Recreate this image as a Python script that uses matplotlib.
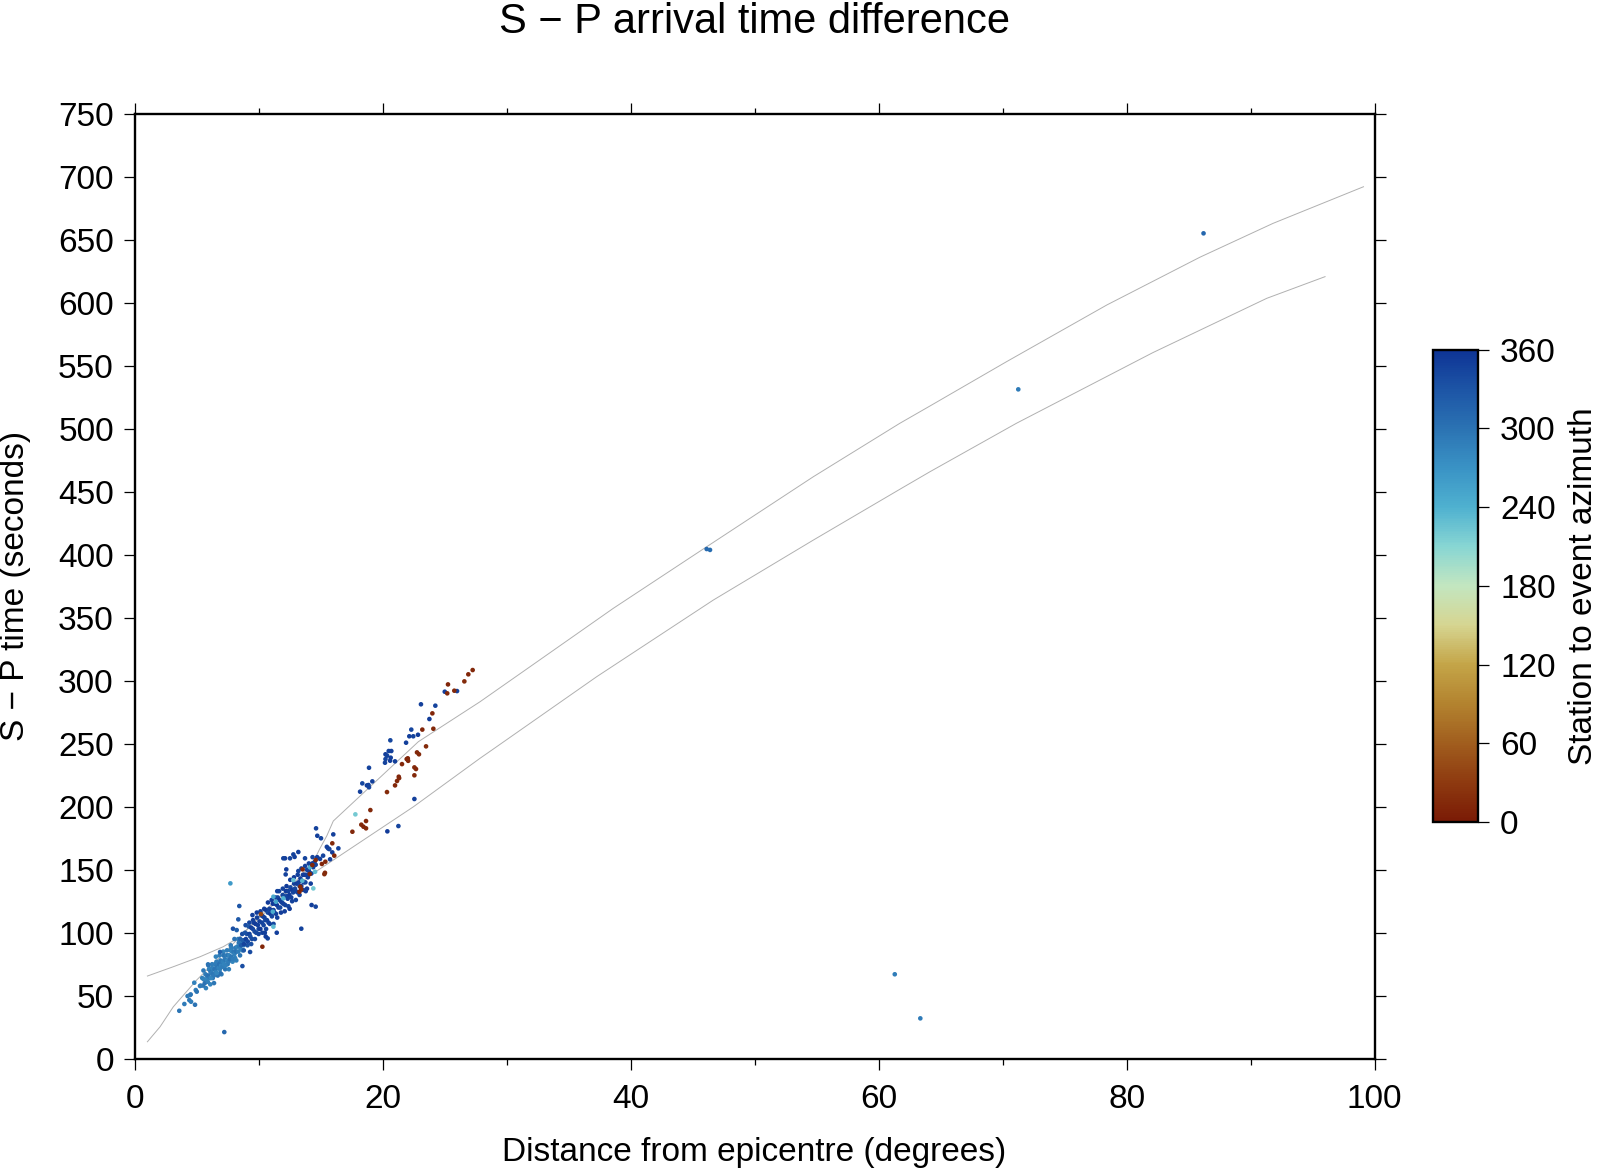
import numpy as np
import matplotlib
matplotlib.use("Agg")
import matplotlib.pyplot as plt
from matplotlib.colors import LinearSegmentedColormap, Normalize

plt.rcParams['font.family'] = ['Liberation Sans', 'DejaVu Sans']

# --- travel time curves (distance deg, S-P seconds) ---
upper_x = [1.03, 3.12, 5.27, 7.15, 8.5, 10.11, 11.72, 13.34, 14.41, 14.95, 15.5, 16.02,
           22.88, 27.85, 31.88, 38.6, 46.13, 54.73, 61.7, 64.14, 70.3, 78.4, 85.9, 91.8, 99.1]
upper_y = [65.6, 73.0, 80.9, 88.9, 96.8, 114.0, 128.6, 144.5, 156.4, 167.0, 177.0, 188.7,
           251.7, 283.4, 311.2, 357.6, 406.5, 462.1, 504.5, 518.3, 553.4, 598.5, 636.4, 663.3, 692.4]
lower_x = [1.03, 2.05, 3.12, 5.0, 6.89, 9.31, 12.0, 14.41, 16.02, 22.48, 27.85, 28.8,
           37.26, 46.67, 54.73, 61.7, 64.14, 71.1, 82.1, 91.3, 96.0]
lower_y = [13.4, 25.3, 41.2, 62.4, 80.9, 104.7, 129.9, 147.2, 157.7, 200.0, 238.5, 245.0,
           303.3, 364.2, 411.8, 452.1, 466.1, 504.5, 560.6, 603.8, 621.0]

# --- dense cluster, lighter part ---
light_x = [5.32, 5.45, 5.52, 5.58, 5.66, 5.71, 5.78, 5.84, 5.9, 5.95,
           6.02, 6.06, 6.12, 6.17, 6.2, 6.26, 6.31, 6.35, 6.4, 6.44,
           6.5, 6.55, 6.6, 6.63, 6.68, 6.74, 6.78, 6.83, 6.88, 6.92,
           6.97, 7.03, 7.08, 7.12, 7.18, 7.22, 7.27, 7.33, 7.37, 7.42,
           7.48, 7.53, 7.58, 7.62, 7.68, 7.73, 7.8, 7.86, 7.92, 7.98,
           8.05, 8.12, 8.2, 8.28, 8.36, 8.45, 8.55, 8.66, 8.78, 8.9]
light_y = [58, 64, 58, 63, 60, 67, 63, 66, 61, 66,
           71, 64, 69, 64, 68, 72, 67, 71, 66, 71,
           75, 69, 73, 68, 72, 76, 72, 75, 71, 78,
           74, 77, 73, 77, 82, 75, 79, 74, 78, 82,
           78, 82, 77, 82, 79, 86, 81, 85, 79, 85,
           83, 88, 85, 89, 85, 89, 87, 92, 90, 94]
light_az = [292, 288, 296, 285, 300, 290, 283, 295, 288, 302,
            286, 293, 298, 281, 290, 287, 296, 284, 292, 299,
            289, 286, 294, 282, 297, 290, 285, 301, 288, 293,
            283, 296, 290, 287, 299, 284, 292, 286, 295, 289,
            281, 297, 291, 285, 300, 288, 294, 283, 290, 296,
            287, 292, 299, 285, 290, 294, 288, 302, 286, 293]

# wider scatter round the lighter part
light2_x = [5.55, 5.75, 5.95, 6.1, 6.25, 6.4, 6.55, 6.7, 6.85, 7.0,
            7.15, 7.3, 7.45, 7.6, 7.75, 7.9, 8.05, 8.2, 8.35, 8.5,
            6.0, 6.3, 6.6, 6.9, 7.2, 7.5, 7.8, 8.1, 8.4, 8.7]
light2_y = [70, 56, 74, 59, 75, 60, 81, 66, 82, 67,
            85, 71, 86, 71, 90, 77, 95, 78, 95, 82,
            71, 64, 77, 68, 82, 75, 88, 80, 92, 86]
light2_az = [294, 287, 299, 283, 291, 296, 285, 302, 289, 293,
             284, 298, 290, 287, 295, 282, 300, 288, 292, 297,
             286, 294, 289, 301, 283, 296, 291, 288, 299, 285]

# --- dense cluster, darker part ---
dark_x = [8.52, 8.6, 8.68, 8.75, 8.82, 8.9, 8.97, 9.05, 9.12, 9.2,
          9.26, 9.33, 9.4, 9.46, 9.53, 9.6, 9.67, 9.74, 9.8, 9.87,
          9.94, 10.0, 10.07, 10.14, 10.2, 10.27, 10.34, 10.4, 10.47, 10.54,
          10.6, 10.67, 10.74, 10.8, 10.87, 10.94, 11.0, 11.07, 11.14, 11.2,
          11.27, 11.34, 11.4, 11.47, 11.54, 11.6, 11.67, 11.74, 11.8, 11.87,
          11.94, 12.0, 12.07, 12.14, 12.2, 12.27, 12.34, 12.4, 12.48, 12.56,
          12.63, 12.7, 12.78, 12.86, 12.93, 13.0, 13.08, 13.15, 13.22, 13.3,
          13.37, 13.44, 13.5, 13.57, 13.64, 13.7, 13.77, 13.84, 13.9, 13.97,
          14.04, 14.1, 14.18, 14.25, 14.33, 14.4, 14.5, 14.6, 14.72]
dark_y = [95, 90, 99, 94, 91, 100, 95, 99, 93, 105,
          99, 97, 104, 95, 103, 108, 101, 107, 100, 112,
          106, 103, 109, 103, 114, 108, 113, 106, 112, 110,
          118, 110, 116, 108, 119, 115, 118, 113, 123, 118,
          116, 123, 115, 122, 128, 120, 126, 120, 125, 124,
          130, 123, 129, 122, 133, 129, 127, 133, 130, 136,
          128, 134, 132, 139, 135, 133, 139, 132, 140, 137,
          143, 137, 141, 146, 140, 146, 140, 146, 150, 144,
          150, 148, 153, 147, 155, 152, 156, 154, 160]
dark_az = [318, 326, 340, 322, 345, 331, 350, 336, 342, 328,
           347, 335, 352, 340, 344, 349, 338, 353, 341, 346,
           350, 343, 348, 355, 339, 347, 351, 344, 349, 342,
           353, 346, 340, 350, 345, 352, 348, 343, 354, 347,
           341, 350, 346, 353, 344, 349, 355, 342, 348, 351,
           345, 350, 340, 347, 353, 344, 349, 346, 352, 342,
           348, 354, 345, 350, 343, 347, 352, 346, 349, 341,
           350, 355, 344, 348, 346, 352, 343, 349, 347, 351,
           345, 350, 342, 348, 353, 346, 349, 344, 351]

# wider scatter round the darker part
dark2_x = [8.8, 8.95, 9.1, 9.25, 9.4, 9.55, 9.7, 9.85, 10.0, 10.15,
           10.3, 10.45, 10.6, 10.75, 10.9, 11.05, 11.2, 11.35, 11.5, 11.65,
           11.8, 11.95, 12.1, 12.25, 12.4, 12.55, 12.7, 12.85, 13.0, 13.15,
           13.3, 13.45, 13.6, 13.75, 13.9, 14.05, 14.2, 14.35,
           9.5, 10.5, 11.5, 12.5, 13.2, 13.8]
dark2_y = [86, 106, 90, 108, 91, 110, 95, 116, 99, 117,
           100, 119, 103, 124, 107, 126, 107, 128, 112, 133,
           116, 135, 117, 137, 121, 142, 125, 144, 126, 146,
           130, 151, 134, 153, 135, 155, 139, 160,
           114, 100, 133, 119, 149, 133]
dark2_az = [325, 338, 330, 345, 334, 348, 340, 352, 343, 349,
            346, 351, 344, 353, 347, 350, 342, 354, 348, 345,
            351, 346, 349, 353, 344, 350, 347, 352, 345, 349,
            343, 351, 348, 346, 354, 347, 350, 344,
            348, 350, 346, 352, 345, 349]

# --- scattered blue picks ---
blue_x = [23.09, 24.25, 25.01, 26.0, 23.77, 22.31, 22.15, 22.47, 22.85, 20.62,
          21.89, 20.49, 20.70, 20.23, 20.36, 20.65, 20.23, 20.60, 20.19, 21.0,
          18.90, 19.17, 18.36, 18.73, 18.86, 18.90, 18.18, 22.56, 21.27, 20.38,
          14.63, 14.73, 15.03, 16.02, 15.6, 15.7, 15.5, 16.43, 15.94, 15.2,
          13.20, 12.80, 12.9, 12.53, 12.13, 11.99, 13.74, 14.95, 15.76, 12.18,
          12.23, 14.60, 14.27, 13.44, 11.46, 10.73, 10.57, 9.31, 8.69]
blue_y = [281.4, 280.3, 291.4, 291.9, 269.7, 261.3, 256.0, 256.0, 257.2, 252.8,
          250.9, 244.3, 244.3, 241.7, 240.6, 239.0, 237.9, 236.6, 235.0, 236.1,
          231.0, 220.2, 218.6, 217.0, 217.3, 215.5, 212.0, 206.2, 184.7, 180.5,
          182.9, 177.0, 175.0, 178.1, 167.0, 166.4, 168.2, 167.0, 163.8, 161.2,
          164.1, 162.2, 160.2, 159.1, 159.1, 159.1, 159.1, 158.6, 158.3, 146.3,
          150.3, 120.7, 122.0, 103.2, 100.0, 95.5, 97.0, 84.7, 73.5]
blue_az = [348, 345, 350, 346, 352, 344, 349, 347, 351, 343,
           350, 346, 348, 352, 345, 349, 344, 351, 347, 350,
           346, 349, 343, 351, 347, 345, 350, 348, 344, 352,
           346, 350, 345, 348, 351, 344, 349, 347, 352, 345,
           350, 346, 349, 344, 351, 347, 345, 350, 348, 346,
           352, 344, 349, 347, 350, 345, 351, 340, 335]

# --- mid blue picks (near source and far distances) ---
mid_x = [8.44, 8.36, 7.93, 8.23, 6.89, 5.92, 7.23, 3.60, 4.01, 4.41,
         4.55, 4.87, 4.27, 4.47, 4.52, 4.93, 5.01, 4.81, 5.27,
         46.13, 46.4, 71.26, 86.2, 61.3, 63.36]
mid_y = [121.2, 110.6, 103.2, 102.1, 84.7, 74.9, 21.1, 38.0, 43.4, 46.5,
         45.2, 42.8, 49.7, 50.5, 51.0, 54.5, 53.2, 60.3, 57.7,
         404.7, 404.0, 531.5, 655.4, 67.0, 32.0]
mid_az = [330, 325, 335, 320, 315, 300, 310, 298, 292, 296,
          290, 300, 294, 288, 297, 291, 299, 286, 293,
          308, 306, 292, 312, 290, 292]

# --- cyan picks ---
cyan_x = [12.80, 13.52, 14.41, 14.14, 14.55, 11.19, 11.99, 11.40, 11.19, 11.14, 17.80, 7.72]
cyan_y = [141.8, 141.3, 135.2, 151.9, 148.4, 128.6, 127.3, 124.6, 104.8, 116.7, 194.0, 139.2]
cyan_az = [228, 235, 222, 240, 230, 245, 238, 250, 232, 242, 220, 262]

# --- red/brown picks ---
red_x = [27.26, 26.91, 26.59, 25.27, 25.21, 25.78, 24.01, 24.09, 23.20, 23.50,
         22.77, 22.93, 21.94, 22.03, 22.06, 21.56, 22.56, 22.69, 22.56, 21.30,
         21.33, 21.16, 21.00, 20.35, 19.01, 18.66, 18.28, 18.66, 18.45, 17.56,
         15.94, 16.10, 15.38, 14.60, 15.1, 15.35, 15.30, 13.55, 14.33, 13.36,
         13.43, 13.29, 14.12, 10.30, 10.19]
red_y = [308.6, 305.2, 299.6, 297.2, 290.1, 292.2, 274.2, 262.0, 261.3, 248.0,
         243.2, 241.7, 237.9, 238.5, 236.5, 233.9, 231.3, 230.0, 225.0, 223.9,
         222.8, 220.5, 217.0, 211.7, 197.4, 188.7, 185.8, 182.9, 184.2, 180.2,
         171.0, 161.2, 156.4, 157.7, 154.6, 147.6, 146.5, 150.3, 153.7, 136.5,
         134.4, 132.5, 146.6, 88.9, 114.8]
red_az = [14, 12, 16, 10, 13, 15, 12, 14, 11, 16,
          13, 15, 12, 10, 14, 13, 16, 12, 15, 11,
          14, 13, 12, 16, 14, 12, 15, 13, 11, 14,
          16, 12, 14, 15, 10, 13, 16, 12, 14, 13,
          15, 11, 14, 12, 40]

# colour table, brown -> yellow -> cyan -> navy
cpt_vals = [0, 30, 60, 90, 120, 150, 180, 210, 240, 270, 300, 330, 360]
cpt_cols = ['#7a1a05', '#8e3a10', '#a15e1e', '#b3832f', '#c4a548', '#d6d591',
            '#c3e6c0', '#88d6d3', '#4fb1d0', '#3a93c5', '#2b73b3', '#1d55a6', '#0e3495']
cmap = LinearSegmentedColormap.from_list(
    'azi', list(zip([v / 360 for v in cpt_vals], cpt_cols)))
norm = Normalize(0, 360)

fig = plt.figure(figsize=(15.99, 11.69), dpi=100)
ax = fig.add_axes([0.0842, 0.0944, 0.7755, 0.8079])

ax.plot(upper_x, upper_y, color='#b0b0b0', lw=0.7, zorder=1)
ax.plot(lower_x, lower_y, color='#b0b0b0', lw=0.7, zorder=1)

groups = [(light2_x, light2_y, light2_az), (light_x, light_y, light_az),
          (dark2_x, dark2_y, dark2_az), (dark_x, dark_y, dark_az),
          (blue_x, blue_y, blue_az), (mid_x, mid_y, mid_az),
          (cyan_x, cyan_y, cyan_az), (red_x, red_y, red_az)]
for gx, gy, gaz in groups:
    sc = ax.scatter(gx, gy, c=gaz, cmap=cmap, norm=norm, s=11, marker='o',
                    linewidths=0, zorder=2)

ax.set_xlim(0, 100)
ax.set_ylim(0, 750)
ax.set_xticks(np.arange(0, 101, 20))
ax.set_xticks(np.arange(10, 100, 20), minor=True)
ax.set_yticks(np.arange(0, 751, 50))
for sp in ax.spines.values():
    sp.set_linewidth(1.7)
ax.tick_params(which='major', direction='out', length=8, width=0.9,
               top=True, right=True, labelsize=24, pad=7)
ax.tick_params(axis='x', which='major', pad=10)
ax.tick_params(which='minor', direction='out', length=4, width=0.9,
               top=True, bottom=True, left=False, right=False)

fig.text(0.4719, 0.9815, 'S \u2212 P arrival time difference', fontsize=30,
         ha='center', va='center')
fig.text(0.4719, 0.0145, 'Distance from epicentre (degrees)', fontsize=24,
         ha='center', va='center')
fig.text(0.0096, 0.4984, 'S \u2212 P time (seconds)', fontsize=24,
         ha='center', va='center', rotation=90)

cax = fig.add_axes([0.8961, 0.2968, 0.0281, 0.404])
cb = fig.colorbar(sc, cax=cax)
cb.set_ticks(np.arange(0, 361, 60))
cb.outline.set_linewidth(1.7)
cax.tick_params(direction='out', length=8, width=0.9, labelsize=24, pad=8)
fig.text(0.9906, 0.4988, 'Station to event azimuth', fontsize=24,
         ha='center', va='center', rotation=90)

fig.savefig('out.png', dpi=100)
